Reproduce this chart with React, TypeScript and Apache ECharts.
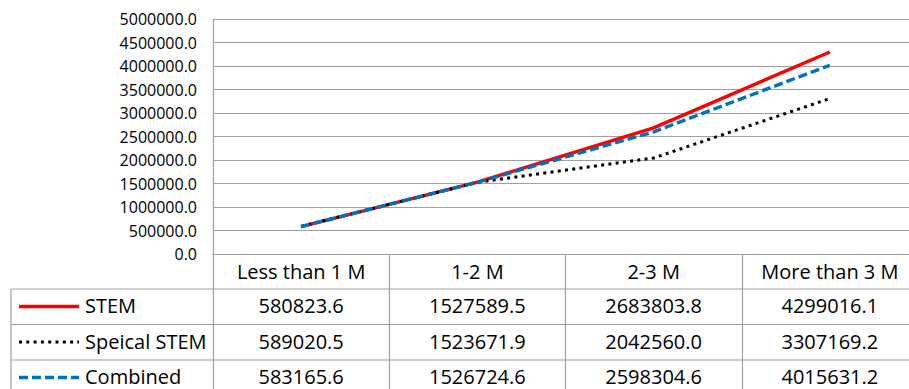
import React, { useEffect, useRef } from "react";
import * as echarts from "echarts";

// Income brackets and the three series shown in the chart and its data table
const categories = ["Less than 1 M", "1-2 M", "2-3 M", "More than 3 M"];
const stem = [580823.6, 1527589.5, 2683803.8, 4299016.1];
const speicalStem = [589020.5, 1523671.9, 2042560.0, 3307169.2];
const combined = [583165.6, 1526724.6, 2598304.6, 4015631.2];

const yMin = 0;
const yMax = 5000000;
const yStep = 500000;

const FONT = "'Open Sans', 'Liberation Sans', sans-serif";
const AXIS_FONT_SIZE = 16;
const TABLE_FONT_SIZE = 20;
const GRID_COLOR = "#a0a0a0";

const CHART_W = 920;
const CHART_H = 389;

const seriesDefs = [
  { name: "STEM", data: stem, color: "#ff0000", width: 3.4, type: "solid" as any, cap: "butt" },
  { name: "Speical STEM", data: speicalStem, color: "#000000", width: 3, type: [3, 4.3] as any, cap: "butt" },
  { name: "Combined", data: combined, color: "#0070c0", width: 3.4, type: [9, 4] as any, cap: "butt" },
];

export default function App() {
  const ref = useRef<HTMLDivElement>(null);

  useEffect(() => {
    if (!ref.current) return;
    const chart = echarts.init(ref.current, undefined, { renderer: "svg" });

    chart.setOption({
      animation: false,
      backgroundColor: "#ffffff",
      grid: { left: 213, right: 2, top: 19, bottom: 135, containLabel: false },
      xAxis: {
        type: "category",
        data: categories,
        boundaryGap: true,
        axisLine: { show: true, lineStyle: { color: GRID_COLOR, width: 1.2 } },
        axisTick: { show: true, interval: 0, length: 140, lineStyle: { color: GRID_COLOR, width: 1.2 } },
        axisLabel: {
          show: true,
          interval: 0,
          hideOverlap: false,
          margin: 17,
          verticalAlign: "middle",
          color: "#000",
          fontFamily: FONT,
          fontSize: TABLE_FONT_SIZE,
          lineHeight: 22,
        },
        splitLine: { show: false },
      },
      yAxis: {
        type: "value",
        min: yMin,
        max: yMax,
        interval: yStep,
        axisLine: { show: true, lineStyle: { color: GRID_COLOR, width: 1.2 } },
        axisTick: { show: false },
        axisLabel: {
          margin: 16,
          color: "#000",
          fontFamily: FONT,
          fontSize: AXIS_FONT_SIZE,
          formatter: (v: number) => v.toFixed(1),
        },
        splitLine: { show: true, lineStyle: { color: GRID_COLOR, width: 1.2 } },
      },
      series: seriesDefs.map((s) => ({
        name: s.name,
        type: "line",
        data: s.data,
        symbol: "none",
        smooth: false,
        lineStyle: { color: s.color, width: s.width, type: s.type, cap: s.cap },
      })),
    });

    // Data table below the plot: one row per series, with its legend key
    const rowTops = [289, 324.5, 360];
    const tableLeft = 11;
    const graphics: any[] = [];
    rowTops.forEach((y) => {
      graphics.push({
        type: "line",
        shape: { x1: tableLeft, y1: y, x2: CHART_W, y2: y },
        style: { stroke: GRID_COLOR, lineWidth: 1.2 },
        silent: true,
      });
    });
    graphics.push({
      type: "line",
      shape: { x1: tableLeft, y1: rowTops[0], x2: tableLeft, y2: CHART_H + 5 },
      style: { stroke: GRID_COLOR, lineWidth: 1.2 },
      silent: true,
    });
    const textStyle = (text: string, align: string) => ({
      text,
      fill: "#000",
      font: `${TABLE_FONT_SIZE}px ${FONT}`,
      lineHeight: 22,
      textAlign: align,
      textVerticalAlign: "middle",
    });
    seriesDefs.forEach((s, r) => {
      const cy = rowTops[r] + 16.5;
      graphics.push({
        type: "line",
        shape: { x1: 19, y1: cy + 1, x2: 79, y2: cy + 1 },
        style: {
          stroke: s.color,
          lineWidth: s.width,
          lineDash: s.type === "solid" ? null : s.type,
          lineCap: s.cap,
        },
        silent: true,
      });
      graphics.push({
        type: "text",
        x: 85,
        y: cy,
        style: textStyle(s.name, "left"),
        silent: true,
      });
      s.data.forEach((v, i) => {
        const x = chart.convertToPixel({ xAxisIndex: 0 }, categories[i]) as number;
        graphics.push({
          type: "text",
          x,
          y: cy,
          style: textStyle(v.toFixed(1), "center"),
          silent: true,
        });
      });
    });
    chart.setOption({ graphic: graphics });

    return () => chart.dispose();
  }, []);

  return (
    <div
      style={{ position: "absolute", left: 0, top: 0, width: 909, height: CHART_H, overflow: "hidden", background: "#fff" }}
    >
      <div ref={ref} style={{ width: CHART_W, height: CHART_H }} />
    </div>
  );
}
